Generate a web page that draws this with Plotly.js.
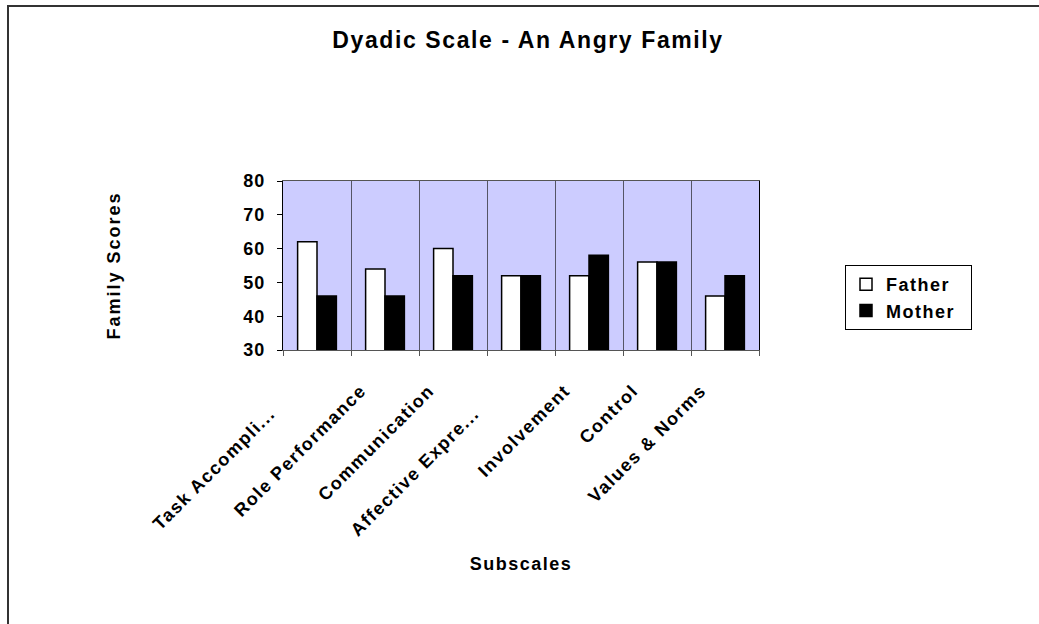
<!DOCTYPE html>
<html>
<head>
<meta charset="utf-8">
<script src="https://cdn.plot.ly/plotly-3.0.1.min.js"></script>
<style>
html,body{margin:0;padding:0;background:#fff;}
#chart{width:1039px;height:624px;}
#chart .gtitle{letter-spacing:1.6px;}
#chart .xtick text{letter-spacing:1.5px;}
#chart .ytick text{letter-spacing:1px;}
#chart .xtitle{letter-spacing:1.5px;}
#chart .ytitle{letter-spacing:2px;}
#chart .legendtext{letter-spacing:1.5px;}
</style>
</head>
<body>
<div id="chart"></div>
<script>
const categories = ["Task Accompli...", "Role Performance", "Communication", "Affective Expre...", "Involvement", "Control", "Values & Norms"];
const fatherScores = [62, 54, 60, 52, 52, 56, 46];
const motherScores = [46, 46, 52, 52, 58, 56, 52];
const yTicks = [30, 40, 50, 60, 70, 80];
const seriesNames = ["Father", "Mother"];

const W = 1039, H = 624;
const M = {l: 283, r: 280, t: 181, b: 274};
const pw = W - M.l - M.r, ph = H - M.t - M.b;
const px = v => (v - M.l) / pw;
const py = v => (H - M.b - v) / ph;

const font = "Liberation Sans, Arial, sans-serif";
const pad = "\u00A0\u00A0\u00A0\u00A0";
// truncated labels sit further out, as in the original
const tickText = categories.map(c => c.endsWith("...") ? c + "\u00A0\u00A0\u00A0\u00A0\u00A0" : c);

const traces = [
  {type: "bar", name: seriesNames[0] + pad, x: categories, y: fatherScores,
   marker: {color: "#ffffff", line: {color: "#000000", width: 1.5}}},
  {type: "bar", name: seriesNames[1] + pad, x: categories, y: motherScores,
   marker: {color: "#000000", line: {color: "#000000", width: 1.5}}}
];

const layout = {
  width: W, height: H,
  margin: M,
  paper_bgcolor: "#ffffff",
  plot_bgcolor: "#ccccff",
  font: {family: font, color: "#000", size: 14},
  barmode: "group",
  bargap: 0.43,
  bargroupgap: 0,
  showlegend: true,
  title: {text: "<b>Dyadic Scale - An Angry Family</b>", font: {size: 23, family: font, color: "#000"},
          x: 528 / W, xanchor: "center", xref: "container", y: 1 - 40 / H, yanchor: "middle", yref: "container"},
  xaxis: {
    type: "category",
    tickmode: "array",
    tickvals: categories,
    ticktext: tickText,
    tickson: "boundaries",
    showgrid: true, gridcolor: "#555566", gridwidth: 1,
    showline: true, linecolor: "#555555", linewidth: 1, mirror: true,
    ticks: "outside", ticklen: 5, tickcolor: "#555555",
    tickangle: -45,
    ticklabelstandoff: 22,
    ticklabelshift: -24,
    tickfont: {size: 18, family: font, color: "#000", weight: "bold"},
    title: {text: "<b>Subscales</b>", font: {size: 18, family: font, color: "#000"}, standoff: 42},
    automargin: false,
    fixedrange: true
  },
  yaxis: {
    range: [30, 80],
    tickvals: yTicks,
    showgrid: false, zeroline: false,
    showline: true, linecolor: "#000000", linewidth: 1, mirror: true,
    ticks: "outside", ticklen: 5, tickcolor: "#000",
    ticklabelstandoff: 8,
    tickfont: {size: 18, family: font, color: "#000", weight: "bold"},
    title: {text: "<b>Family Scores</b>", font: {size: 18, family: font, color: "#000"}, standoff: 120},
    automargin: false,
    fixedrange: true
  },
  legend: {
    x: px(845), xanchor: "left", y: py(265), yanchor: "top",
    bordercolor: "#000", borderwidth: 1, bgcolor: "#fff",
    font: {size: 18, family: font, color: "#000", weight: "bold"},
    itemwidth: 30, tracegroupgap: 0
  },
  shapes: [
    {type: "path", xref: "paper", yref: "paper",
     path: "M " + px(8) + "," + py(H + 10) + " L " + px(8) + "," + py(6) + " L " + px(W + 10) + "," + py(6),
     line: {color: "#333333", width: 2}}
  ]
};

Plotly.newPlot("chart", traces, layout, {displayModeBar: false, staticPlot: true});
</script>
</body>
</html>
